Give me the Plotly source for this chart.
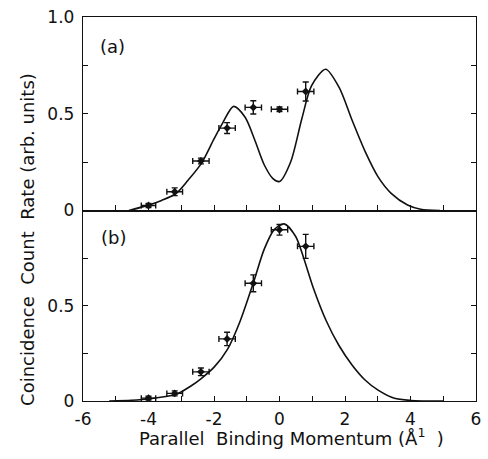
import plotly.graph_objects as go

# ---- data ----
# panel (a) measured points
a_x = [-4.0, -3.2, -2.4, -1.6, -0.8, 0.0, 0.8]
a_y = [0.026, 0.097, 0.256, 0.426, 0.533, 0.523, 0.615]
a_yerr = [0.010, 0.020, 0.015, 0.028, 0.034, 0.012, 0.049]
a_xerr = [0.22, 0.24, 0.25, 0.25, 0.25, 0.25, 0.25]

# panel (a) theory curve
a_cx = [-4.6, -4.0, -3.6, -3.16, -2.8, -2.38, -2.0, -1.75, -1.4, -1.05, -0.75,
        -0.46, -0.2, 0.0, 0.34, 0.68, 0.98, 1.41, 1.82, 2.22, 2.62, 3.01,
        3.41, 3.91, 4.31, 4.9]
a_cy = [0.0, 0.028, 0.052, 0.088, 0.155, 0.245, 0.37, 0.448, 0.538, 0.482, 0.362,
        0.234, 0.165, 0.15, 0.251, 0.473, 0.645, 0.730, 0.636, 0.465, 0.303, 0.174,
        0.089, 0.029, 0.007, 0.0]

# panel (b) measured points
b_x = [-4.0, -3.2, -2.4, -1.6, -0.8, 0.0, 0.8]
b_y = [0.015, 0.040, 0.153, 0.326, 0.618, 0.899, 0.812]
b_yerr = [0.010, 0.013, 0.020, 0.035, 0.044, 0.028, 0.063]
b_xerr = [0.22, 0.24, 0.25, 0.25, 0.25, 0.25, 0.25]

# panel (b) theory curve
b_cx = [-5.2, -4.52, -3.96, -3.16, -2.74, -2.39, -1.99, -1.58, -1.2, -0.8, -0.46,
        -0.16, 0.14, 0.49, 0.74, 1.03, 1.43, 1.82, 2.22, 2.62, 3.01, 3.51, 4.0, 5.0]
b_cy = [0.0, 0.004, 0.012, 0.035, 0.075, 0.118, 0.179, 0.274, 0.42, 0.62, 0.80,
        0.90, 0.93, 0.865, 0.75, 0.595, 0.42, 0.29, 0.188, 0.109, 0.057, 0.014, 0.003, 0.0]

x_ticks = [-6, -4, -2, 0, 2, 4, 6]
x_ticktext = ["-6", "-4", "-2", "0", "2", "4", "6"]
ya_ticks = [0, 0.5, 1.0]
ya_ticktext = ["0", "0.5", "1.0"]
yb_ticks = [0, 0.5]
yb_ticktext = ["0", "0.5"]

FONT = "DejaVu Sans, Liberation Sans, Arial, sans-serif"
INK = "#111111"

fig = go.Figure()

def add_panel(cx, cy, px, py, pxe, pye, xa, ya):
    fig.add_trace(go.Scatter(x=cx, y=cy, mode="lines", xaxis=xa, yaxis=ya,
                             line=dict(color=INK, width=1.6, shape="spline", smoothing=0.8),
                             showlegend=False, hoverinfo="skip"))
    fig.add_trace(go.Scatter(x=px, y=py, mode="markers", xaxis=xa, yaxis=ya,
                             marker=dict(symbol="diamond", size=6, color=INK),
                             error_y=dict(type="data", array=pye, color=INK, thickness=1.4, width=3),
                             error_x=dict(type="data", array=pxe, color=INK, thickness=1.4, width=3),
                             showlegend=False))

add_panel(a_cx, a_cy, a_x, a_y, a_xerr, a_yerr, "x2", "y2")
add_panel(b_cx, b_cy, b_x, b_y, b_xerr, b_yerr, "x", "y")

axis_common = dict(showgrid=False, zeroline=False, showline=True, linecolor=INK, linewidth=1.4,
                   ticks="inside", ticklen=5, tickwidth=1.2, tickcolor=INK,
                   tickfont=dict(family=FONT, size=17, color=INK))
x_minor = dict(ticks="inside", ticklen=5, tickwidth=1.2, tickcolor=INK, dtick=1, showgrid=False)
y_minor = dict(ticks="inside", ticklen=5, tickwidth=1.2, tickcolor=INK, dtick=0.25, showgrid=False)

split = 0.496
fig.update_layout(
    width=488, height=459,
    margin=dict(l=83, r=7, t=14, b=58),
    paper_bgcolor="white", plot_bgcolor="white",
    font=dict(family=FONT, color=INK),
    xaxis=dict(domain=[0, 1], range=[-6, 6], anchor="y", tickvals=x_ticks, ticktext=x_ticktext,
               minor=x_minor, mirror=True, ticklabelstandoff=2, **axis_common),
    xaxis2=dict(domain=[0, 1], range=[-6, 6], anchor="y2", tickvals=x_ticks, showticklabels=False,
                minor=x_minor, mirror=True, matches="x", **axis_common),
    yaxis=dict(domain=[0, split], range=[0, 1.0], anchor="x", tickvals=yb_ticks, ticktext=yb_ticktext,
               minor=y_minor, mirror="ticks", ticklabelstandoff=4, **axis_common),
    yaxis2=dict(domain=[split, 1], range=[0, 1.0], anchor="x2", tickvals=ya_ticks, ticktext=ya_ticktext,
                minor=y_minor, mirror="ticks", ticklabelstandoff=4, **axis_common),
)

fig.add_annotation(text="(a)", xref="paper", yref="paper", x=0.076, y=0.922,
                   xanchor="center", yanchor="middle",
                   showarrow=False, font=dict(family=FONT, size=18, color=INK))
fig.add_annotation(text="(b)", xref="paper", yref="paper", x=0.078, y=0.426,
                   xanchor="center", yanchor="middle",
                   showarrow=False, font=dict(family=FONT, size=18, color=INK))
fig.add_annotation(text="Parallel\u00a0\u00a0Binding Momentum (Å<sup>1</sup>\u00a0\u00a0)",
                   xref="paper", yref="paper", x=0.531, y=-0.095, xanchor="center", yanchor="middle",
                   showarrow=False, font=dict(family=FONT, size=18, color=INK))
fig.add_annotation(text="Coincidence\u00a0\u00a0Count\u00a0\u00a0Rate (arb. units)",
                   xref="paper", yref="paper", x=-0.141, y=0.421, xanchor="center", yanchor="middle",
                   textangle=-90, showarrow=False, font=dict(family=FONT, size=18, color=INK))

fig.write_html("out.html")
